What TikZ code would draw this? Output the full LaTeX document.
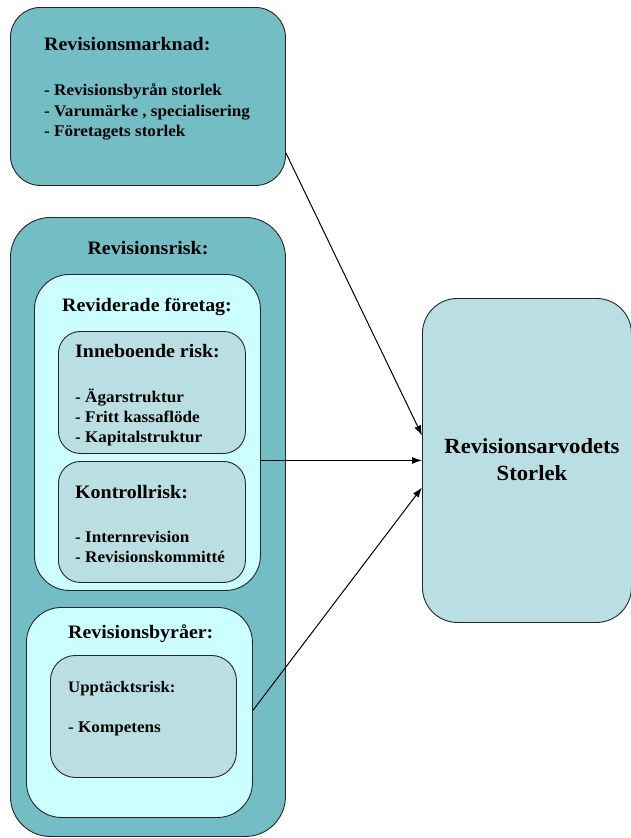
\documentclass[tikz,border=0pt]{standalone}
\usepackage{fontspec}
\setmainfont{Liberation Serif}[FakeStretch=1.05]
\usetikzlibrary{arrows.meta,calc}
\definecolor{tealdark}{HTML}{73BEC5}
\definecolor{cyanlight}{HTML}{CCFFFF}
\definecolor{bluegray}{HTML}{B9DFE2}
\tikzset{
  box/.style={draw=black!85, line width=0.9pt, rectangle, inner sep=0pt, anchor=north west},
  txt/.style={inner sep=0pt, anchor=base west, font=\bfseries\fontsize{16.3}{19}\selectfont},
  ttl/.style={inner sep=0pt, anchor=base west, font=\bfseries\fontsize{19}{22}\selectfont},
  ttlc/.style={inner sep=0pt, anchor=base, font=\bfseries\fontsize{19}{22}\selectfont},
  arr/.style={draw=black, line width=1pt, -{Latex[length=10pt,width=7pt]}}
}
\begin{document}
\begin{tikzpicture}[x=1pt,y=-1pt]
\useasboundingbox (0,0) rectangle (631,838);
% boxes
\node[box, fill=tealdark, rounded corners=30pt, minimum width=275pt, minimum height=178pt] (m) at (10,7) {};
\node[box, fill=tealdark, rounded corners=40pt, minimum width=275pt, minimum height=619pt] (rr) at (10,217) {};
\node[box, fill=cyanlight, rounded corners=35pt, minimum width=226pt, minimum height=316pt] (rf) at (34,274) {};
\node[box, fill=bluegray, rounded corners=22pt, minimum width=187pt, minimum height=122pt] (ib) at (58,331) {};
\node[box, fill=bluegray, rounded corners=22pt, minimum width=187pt, minimum height=121pt] (kr) at (58,461) {};
\node[box, fill=cyanlight, rounded corners=35pt, minimum width=226pt, minimum height=210pt] (rb) at (26,607) {};
\node[box, fill=bluegray, rounded corners=25pt, minimum width=186pt, minimum height=122pt] (ut) at (50,655) {};
\node[box, fill=bluegray, rounded corners=35pt, minimum width=209pt, minimum height=324pt] (R) at (422,298) {};
% texts
\node[ttl] (t1) at (44,50) {Revisionsmarknad:};
\node[txt] (t1a) at (44,95) {- Revisionsbyrån storlek};
\node[txt] (t1b) at (44,116) {- Varumärke , specialisering};
\node[txt] (t1c) at (44,136) {- Företagets storlek};
\node[ttlc] (t2) at (148,254) {Revisionsrisk:};
\node[ttlc] (t3) at (147,311) {Reviderade företag:};
\node[ttl] (t4) at (75,357) {Inneboende risk:};
\node[txt] (t4a) at (75,402) {- Ägarstruktur};
\node[txt] (t4b) at (75,422) {- Fritt kassaflöde};
\node[txt] (t4c) at (75,442) {- Kapitalstruktur};
\node[ttl] (t5) at (75,498) {Kontrollrisk:};
\node[txt] (t5a) at (75,542) {- Internrevision};
\node[txt] (t5b) at (75,562) {- Revisionskommitté};
\node[ttl] (t6) at (68,638) {Revisionsbyråer:};
\node[inner sep=0pt, anchor=base west, font=\bfseries\fontsize{16}{19}\selectfont] (t7) at (68,692) {Upptäcktsrisk:};
\node[txt] (t7a) at (68,732) {- Kompetens};
\node[inner sep=0pt, align=center, font=\bfseries\fontsize{21.6}{27}\selectfont] (tR) at (532,460) {Revisionsarvodets\\Storlek};
% arrows
\draw[arr] ([yshift=33pt]m.south east) -- ([yshift=25pt]R.west);
\draw[arr] (rf.east |- R.west) -- (R.west);
\draw[arr] ([yshift=2pt]rb.east) -- ([yshift=-27pt]R.west);
\end{tikzpicture}
\end{document}
